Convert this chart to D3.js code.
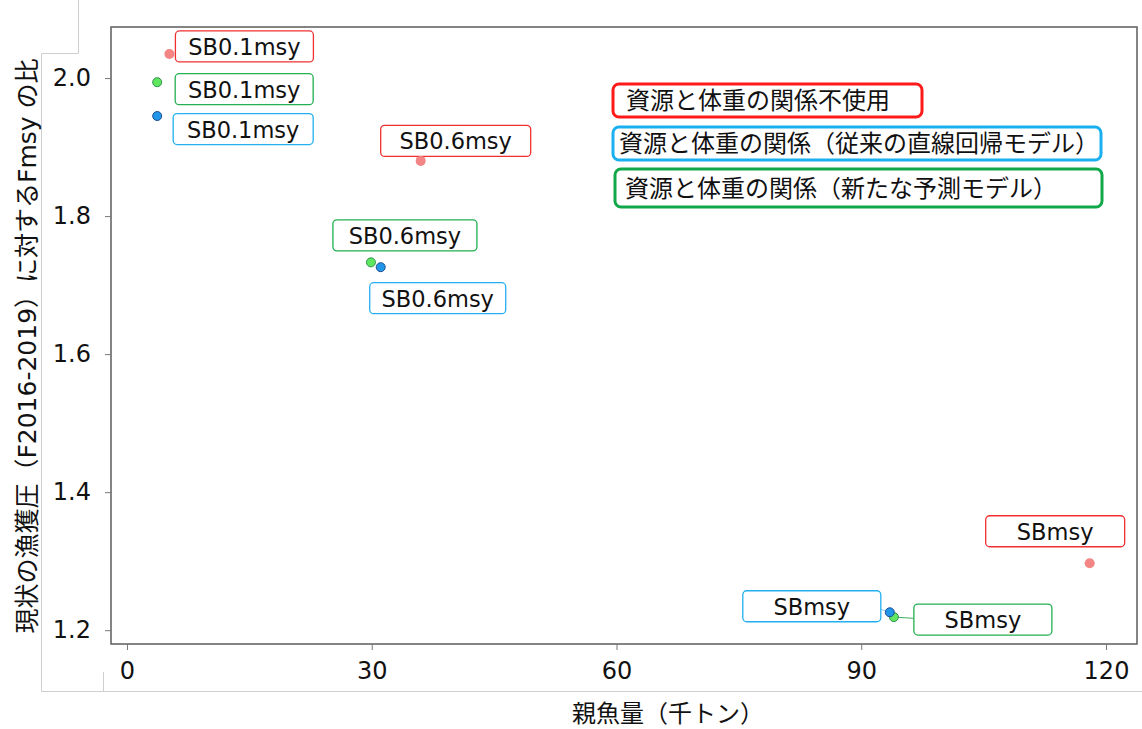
<html>
<head>
<style>
  body { margin: 0; background: #fff; }
  text { font-family: "DejaVu Sans", "Noto Sans CJK JP", sans-serif; }
</style>
<script src="https://cdn.jsdelivr.net/npm/d3@7"></script>
</head>
<body>
<svg id="chart" width="1142" height="729"></svg>
<script>
// reference points: spawning biomass (千トン) vs F ratio
const refNames = ["SB0.1msy", "SB0.6msy", "SBmsy"];
const ssbNoWeight = [5.2, 36.0, 118.0];
const fNoWeight = [2.035, 1.880, 1.297];
const ssbNewModel = [3.7, 29.9, 94.0];
const fNewModel = [1.994, 1.733, 1.219];
const ssbLinear = [3.7, 31.1, 93.5];
const fLinear = [1.945, 1.726, 1.226];

const legendNames = [
  "資源と体重の関係不使用",
  "資源と体重の関係（従来の直線回帰モデル）",
  "資源と体重の関係（新たな予測モデル）"
];
const xTicks = [0, 30, 60, 90, 120];
const yTicks = [1.2, 1.4, 1.6, 1.8, 2.0];
const xTitle = "親魚量（千トン）";
const yTitle = "現状の漁獲圧（F2016-2019）に対するFmsy の比";

const series = [
  { key: "red", ssb: ssbNoWeight, f: fNoWeight, fill: "#f38585", stroke: "none", box: "#f03030" },
  { key: "green", ssb: ssbNewModel, f: fNewModel, fill: "#5fe85f", stroke: "#2f8f4f", box: "#22b050" },
  { key: "blue", ssb: ssbLinear, f: fLinear, fill: "#2196e8", stroke: "#1d4f8f", box: "#22b0f0" }
];

// label box placement relative to its point (px): dx, dy of box centre, width
const labelLayout = {
  red: [[75, -7.5, 138], [35, -20, 150], [-34.5, -32, 139]],
  green: [[87, 7, 138], [34, -27, 144], [89, 2.5, 138]],
  blue: [[86, 13, 140], [57, 31, 136], [-78, -6, 138]]
};

const svg = d3.select("#chart");

// faint frame left over around the picture
const frame = svg.append("g").attr("stroke", "#cfcfcf").attr("stroke-width", 1).attr("fill", "none");
frame.append("path").attr("d", "M78.5,0V53.5H41.5V691.5H1142");
frame.append("path").attr("d", "M103.5,672V691.5");

const pLeft = 111, pRight = 1137, pTop = 27, pBottom = 644;
const x = d3.scaleLinear().domain([-1.96, 123.8]).range([pLeft, pRight]);
const y = d3.scaleLinear().domain([1.18, 2.074]).range([pBottom, pTop]);

// panel border
svg.append("rect")
  .attr("x", pLeft).attr("y", pTop)
  .attr("width", pRight - pLeft).attr("height", pBottom - pTop)
  .attr("fill", "none").attr("stroke", "#666").attr("stroke-width", 1.6);

const xAxis = svg.append("g")
  .attr("transform", `translate(0,${pBottom})`)
  .call(d3.axisBottom(x).tickValues(xTicks).tickSize(6).tickPadding(12).tickFormat(d3.format("d")));
const yAxis = svg.append("g")
  .attr("transform", `translate(${pLeft},0)`)
  .call(d3.axisLeft(y).tickValues(yTicks).tickSize(6).tickPadding(14).tickFormat(d3.format(".1f")));
[xAxis, yAxis].forEach(a => {
  a.select(".domain").remove();
  a.selectAll(".tick line").attr("stroke", "#777");
  a.selectAll(".tick text").attr("fill", "#111").style("font-size", "24px");
});

svg.append("text")
  .attr("x", 668).attr("y", 722)
  .attr("text-anchor", "middle")
  .style("font-size", "24px").attr("fill", "#111")
  .text(xTitle);

svg.append("text")
  .attr("transform", "translate(36,346) rotate(-90)")
  .attr("text-anchor", "middle")
  .style("font-size", "25px").attr("fill", "#111")
  .text(yTitle);

// leader lines for the SBmsy labels that sit beside their points
const leaders = [
  { s: series[2], i: 2, color: "#8fd0f0" },
  { s: series[1], i: 2, color: "#3fb060" }
];
leaders.forEach(({ s, i, color }) => {
  const px = x(s.ssb[i]), py = y(s.f[i]);
  const [dx, dy, w] = labelLayout[s.key][i];
  const edge = dx < 0 ? px + dx + w / 2 : px + dx - w / 2;
  svg.append("line")
    .attr("x1", px).attr("y1", py)
    .attr("x2", edge).attr("y2", py + dy * 0.5)
    .attr("stroke", color).attr("stroke-width", 1);
});

// label boxes
series.forEach(s => {
  const g = svg.append("g");
  refNames.forEach((name, i) => {
    const px = x(s.ssb[i]), py = y(s.f[i]);
    const [dx, dy, w] = labelLayout[s.key][i];
    const h = 31;
    g.append("rect")
      .attr("x", px + dx - w / 2).attr("y", py + dy - h / 2)
      .attr("width", w).attr("height", h)
      .attr("rx", 4)
      .attr("fill", "#fff").attr("stroke", s.box).attr("stroke-width", 1.3);
    g.append("text")
      .attr("x", px + dx).attr("y", py + dy + 8.5)
      .attr("text-anchor", "middle")
      .style("font-size", "22.5px").attr("fill", "#111")
      .text(name);
  });
});

// points
series.forEach(s => {
  svg.append("g").selectAll("circle")
    .data(refNames.map((n, i) => [s.ssb[i], s.f[i]]))
    .join("circle")
    .attr("cx", d => x(d[0])).attr("cy", d => y(d[1]))
    .attr("r", s.stroke === "none" ? 5 : 4.5)
    .attr("fill", s.fill)
    .attr("stroke", s.stroke).attr("stroke-width", 1);
});

// legend boxes
const legendColors = ["#ff1a1a", "#1ab0f0", "#10a848"];
const legendBoxes = [[613, 84, 309, 33, 626], [613, 127, 488, 33, 619], [615, 169, 487, 38, 625]];
legendNames.forEach((name, i) => {
  const [bx, by, bw, bh, tx] = legendBoxes[i];
  svg.append("rect")
    .attr("x", bx).attr("y", by).attr("width", bw).attr("height", bh)
    .attr("rx", 6)
    .attr("fill", "#fff").attr("stroke", legendColors[i]).attr("stroke-width", 3);
  svg.append("text")
    .attr("x", tx).attr("y", by + bh / 2 + 8.5)
    .style("font-size", "24px").attr("fill", "#111")
    .text(name);
});
</script>
</body>
</html>
